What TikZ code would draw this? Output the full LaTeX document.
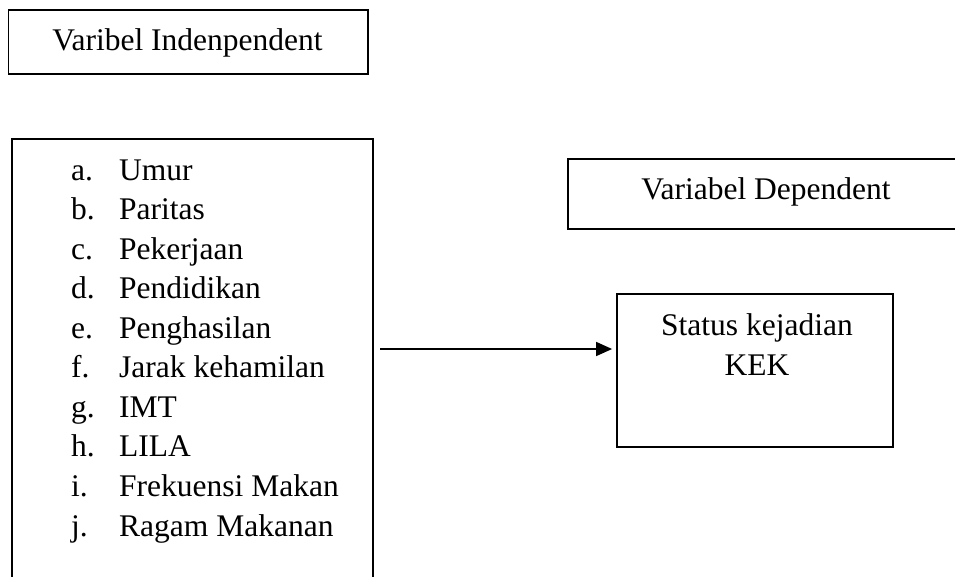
\documentclass[tikz,border=0pt]{standalone}
\usepackage{fontspec}
\setmainfont{Liberation Serif}
\usetikzlibrary{arrows.meta}
\begin{document}
\begin{tikzpicture}[x=1pt,y=-1pt,
  boxframe/.style={draw=black, line width=1.8pt, rectangle, inner sep=0pt},
  txt/.style={inner sep=0pt, font=\fontsize{31.5}{39.6}\selectfont},
  conn/.style={line width=1.5pt, -{Triangle[length=16pt,width=14pt]}}]
\useasboundingbox (0,0) rectangle (955,576);
\clip (0,0) rectangle (955,576);
% independent heading box
\node[boxframe, minimum width=359.5pt, minimum height=64pt] (indep) at (188.25,42) {};
\node[txt, anchor=base] (indeptxt) at (187.5,50) {Varibel Indenpendent};
% list box (runs past the bottom edge)
\node[boxframe, minimum width=361pt, minimum height=461pt] (list) at (192.5,369.5) {};
\foreach [count=\i] \l/\t in {a./Umur, b./Paritas, c./Pekerjaan, d./Pendidikan,
  e./Penghasilan, f./Jarak kehamilan, g./IMT, h./LILA, i./Frekuensi Makan, j./Ragam Makanan}
{
  \node[txt, anchor=base west] (lab\i) at (71,{180+39.56*(\i-1)}) {\l};
  \node[txt, anchor=base west] (item\i) at (119,{180+39.56*(\i-1)}) {\t};
}
% dependent heading box (runs past the right edge)
\node[boxframe, minimum width=398pt, minimum height=70pt] (dep) at (767,194) {};
\node[txt, anchor=base] (deptxt) at (766,199) {Variabel Dependent};
% status box
\node[boxframe, minimum width=276pt, minimum height=153pt] (status) at (755,370.5) {};
\node[txt, anchor=base] (st1) at (757,335) {Status kejadian};
\node[txt, anchor=base] (st2) at (757,375) {KEK};
% connector
\coordinate (astart) at (380,349);
\draw[conn, shorten >=4pt] (astart) -- (astart -| status.west);
\end{tikzpicture}
\end{document}
